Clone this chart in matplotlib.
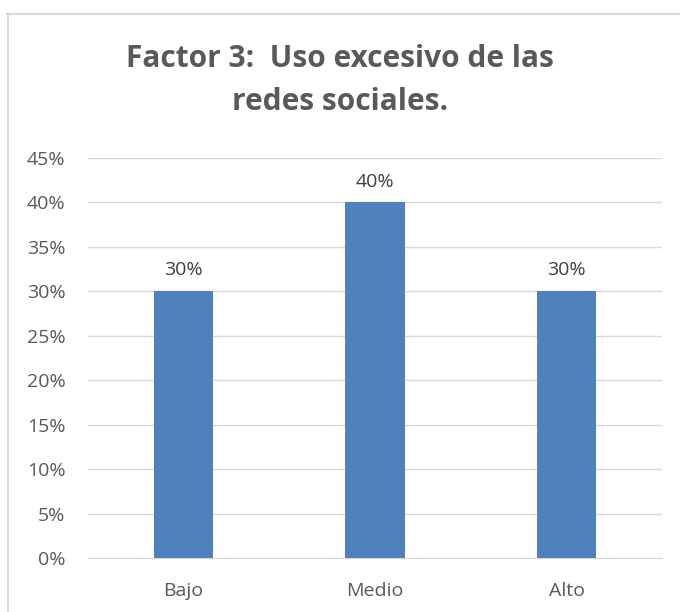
import matplotlib.pyplot as plt
from matplotlib.ticker import PercentFormatter
from matplotlib.lines import Line2D

categories = ["Bajo", "Medio", "Alto"]
values = [0.30, 0.40, 0.30]
labels = ["30%", "40%", "30%"]

plt.rcParams["font.family"] = ["Open Sans", "DejaVu Sans"]

fig = plt.figure(figsize=(6.8, 6.12), dpi=100)
ax = fig.add_axes([0.129, 0.088, 0.845, 0.654])

x = range(len(categories))
bars = ax.bar(x, values, width=0.31, color="#4f81bd", zorder=3)
for b, lab in zip(bars, labels):
    ax.annotate(lab, (b.get_x() + b.get_width() / 2, b.get_height()),
                xytext=(0, 15), textcoords="offset points",
                ha="center", va="center", fontsize=14, color="#404040")

ax.set_xlim(-0.5, 2.5)
ax.set_ylim(0, 0.45)
ax.set_yticks([i * 0.05 for i in range(10)])
ax.yaxis.set_major_formatter(PercentFormatter(1.0, decimals=0))
ax.set_xticks(list(x))
ax.set_xticklabels(categories)
ax.tick_params(length=0, labelsize=14, colors="#595959")
ax.tick_params(axis="y", pad=16)
ax.tick_params(axis="x", pad=17)
ax.grid(axis="y", color="#d9d9d9", linewidth=1, zorder=0)
for s in ["top", "right", "left"]:
    ax.spines[s].set_visible(False)
ax.spines["bottom"].set_color("#d9d9d9")

fig.text(0.5, 0.869, "Factor 3:  Uso excesivo de las\nredes sociales.", ha="center",
         va="center", fontsize=21.5, fontweight="bold", color="#595959", linespacing=1.56)

# chart border (only top and left edges fall inside the picture)
fig.add_artist(Line2D([7 / 680, 1], [1 - 14 / 612] * 2, transform=fig.transFigure,
                      color="#d9d9d9", linewidth=1.5))
fig.add_artist(Line2D([7.5 / 680] * 2, [0, 1 - 14 / 612], transform=fig.transFigure,
                      color="#d9d9d9", linewidth=1.5))

fig.savefig("out.png", dpi=100)
